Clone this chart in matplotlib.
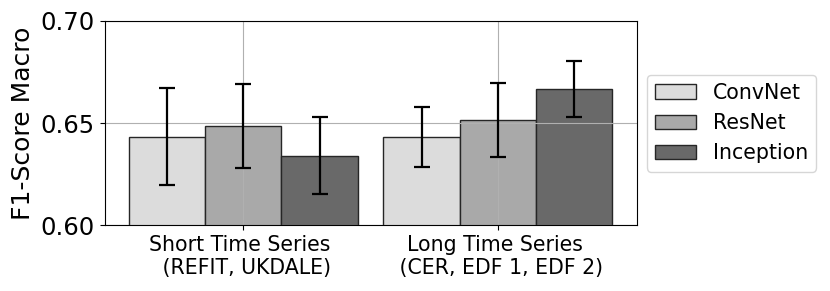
import numpy as np
from matplotlib import pyplot as plt

groups  = ["Short Time Series \n (REFIT, UKDALE)", "Long Time Series \n (CER, EDF 1, EDF 2)"]
models  = ["ConvNet", "ResNet", "Inception"]
colors  = ["#dcdcdc", "#a9a9a9", "#696969"]

# mean F1 per model, one value per group
means = {
	"ConvNet":   [0.6434, 0.6431],
	"ResNet":    [0.6486, 0.6517],
	"Inception": [0.6341, 0.6666],
}
errs = {
	"ConvNet":   [0.0239, 0.0148],
	"ResNet":    [0.0206, 0.0181],
	"Inception": [0.0187, 0.0137],
}

# =============================================================================

fig = plt.figure(figsize=(8.3, 2.91), dpi=100)
ax  = fig.add_axes([0.126, 0.226, 0.641, 0.702])

x     = np.arange(len(groups))
width = 0.3

for i, m in enumerate(models):
	ax.bar(x + (i - 1) * width, means[m], width, yerr=errs[m], label=m,
		color=colors[i], edgecolor="#262626", linewidth=1.0,
		error_kw=dict(ecolor="black", elinewidth=1.6, capsize=6, capthick=1.6))

ax.set_ylim(0.60, 0.70)
ax.set_yticks([0.60, 0.65, 0.70])
ax.set_yticklabels(["0.60", "0.65", "0.70"], fontsize=17.5)
ax.set_xticks(x)
ax.set_xticklabels(groups, fontsize=14.8)
ax.set_ylabel("F1-Score Macro", fontsize=18)
ax.grid(True)
ax.legend(loc="center left", bbox_to_anchor=(1.0, 0.5), fontsize=14.8)

plt.savefig("out.png", dpi=100)
